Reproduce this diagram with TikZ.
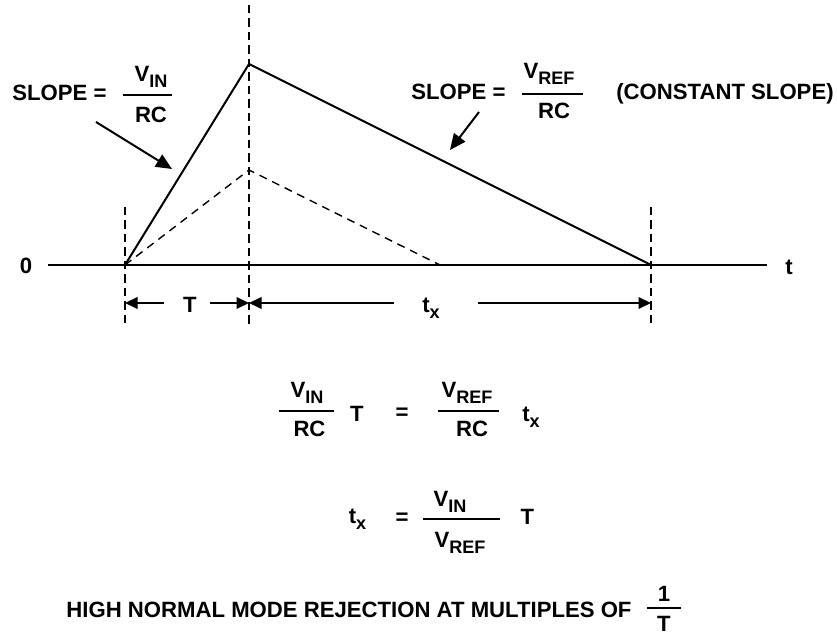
\documentclass[tikz,border=0pt]{standalone}
\usepackage{fontspec}
\setmainfont{Liberation Sans}
\usetikzlibrary{arrows.meta}
\newcommand{\sbs}[1]{\raisebox{-3.4pt}{\fontsize{10.3}{12}\selectfont #1}}
\begin{document}
\begin{tikzpicture}[line join=miter,
    lbl/.style={inner sep=0pt, anchor=base, font=\bfseries\fontsize{12.6}{15}\selectfont},
    axisline/.style={line width=0.04cm},
    ramp/.style={line width=0.04cm},
    ghost/.style={line width=0.028cm, dash pattern=on 0.16cm off 0.12cm},
    guide/.style={line width=0.042cm, dash pattern=on 0.17cm off 0.1cm},
    dim/.style={line width=0.04cm, -{Triangle[length=0.25cm,width=0.23cm]}},
    pointer/.style={line width=0.04cm, -{Triangle[length=0.32cm,width=0.28cm]}},
    bar/.style={line width=0.04cm}]
  \useasboundingbox (0,0) rectangle (16.74,12.7);
  % time axis
  \coordinate (aL) at (0.96,7.4);
  \coordinate (aR) at (15.34,7.4);
  \draw[axisline] (aL) -- (aR);
  \node[lbl] (zero) at (0.52,7.22) {0};
  \node[lbl] (tlab) at (15.78,7.2) {t};
  % integrator output
  \coordinate (O0) at (2.5,7.4);
  \coordinate (Pk) at (4.98,11.42);
  \coordinate (E0) at (13.02,7.4);
  \coordinate (DPk) at (4.98,9.3);
  \coordinate (DE0) at (8.8,7.4);
  \draw[ramp] (O0) -- (Pk) -- (E0);
  \draw[ghost] (O0) -- (DPk) -- (DE0);
  % guides
  \coordinate (gLt) at (2.5,8.56);
  \coordinate (gLb) at (2.5,6.2);
  \coordinate (gMt) at (4.98,12.6);
  \coordinate (gMb) at (4.98,6.2);
  \coordinate (gRt) at (13.02,8.56);
  \coordinate (gRb) at (13.02,6.2);
  \foreach \g in {L,M,R} \draw[guide] (g\g t) -- (g\g b);
  % T and t_x
  \coordinate (dA) at (2.5,6.64);
  \coordinate (dB) at (4.98,6.64);
  \coordinate (dC) at (13.02,6.64);
  \node[lbl] (T) at (3.8,6.44) {T};
  \coordinate (dA1) at (3.28,6.64);
  \coordinate (dB1) at (4.2,6.64);
  \draw[dim] (dA1) -- (dA);
  \draw[dim] (dB1) -- (dB);
  \node[lbl] (tx) at (8.62,6.44) {t\sbs{x}};
  \coordinate (dB2) at (7.88,6.64);
  \coordinate (dC1) at (9.56,6.64);
  \draw[dim] (dB2) -- (dB);
  \draw[dim] (dC1) -- (dC);
  % slope labels
  \node[lbl] (s1) at (1.19,10.68) {SLOPE =};
  \node[lbl] (s1n) at (3.02,11.06) {V\sbs{IN}};
  \draw[bar] (2.46,10.8) -- (3.44,10.8);
  \node[lbl] (s1d) at (3.02,10.24) {RC};
  \coordinate (p1a) at (1.92,10.26);
  \coordinate (p1b) at (3.44,9.32);
  \draw[pointer] (p1a) -- (p1b);
  \node[lbl] (s2) at (9.17,10.7) {SLOPE =};
  \node[lbl] (s2n) at (10.98,11.12) {V\sbs{REF}};
  \draw[bar] (10.44,10.82) -- (11.66,10.82);
  \node[lbl] (s2d) at (11.08,10.32) {RC};
  \node[lbl] (cst) at (14.5,10.7) {(CONSTANT SLOPE)};
  \coordinate (p2a) at (9.58,10.46);
  \coordinate (p2b) at (9.0,9.7);
  \draw[pointer] (p2a) -- (p2b);
  % equations
  \node[lbl] (e1n) at (6.14,4.74) {V\sbs{IN}};
  \draw[bar] (5.58,4.48) -- (6.68,4.48);
  \node[lbl] (e1d) at (6.19,3.96) {RC};
  \node[lbl] (e1T) at (7.14,4.26) {T};
  \node[lbl] (e1eq) at (8.04,4.31) {=};
  \node[lbl] (e1n2) at (9.34,4.74) {V\sbs{REF}};
  \draw[bar] (8.76,4.48) -- (9.98,4.48);
  \node[lbl] (e1d2) at (9.44,3.96) {RC};
  \node[lbl] (e1t) at (10.62,4.26) {t\sbs{x}};
  \node[lbl] (e2t) at (7.15,2.22) {t\sbs{x}};
  \node[lbl] (e2eq) at (8.04,2.2) {=};
  \node[lbl] (e2n) at (9.0,2.56) {V\sbs{IN}};
  \draw[bar] (8.46,2.32) -- (10.0,2.32);
  \node[lbl] (e2d) at (9.2,1.74) {V\sbs{REF}};
  \node[lbl] (e2T) at (10.55,2.2) {T};
  % rejection note
  \node[lbl] (rej) at (6.98,0.34) {HIGH NORMAL MODE REJECTION AT MULTIPLES OF};
  \node[lbl] (one) at (13.28,0.66) {1};
  \draw[bar] (12.94,0.54) -- (13.62,0.54);
  \node[lbl] (per) at (13.28,0.06) {T};
\end{tikzpicture}
\end{document}
